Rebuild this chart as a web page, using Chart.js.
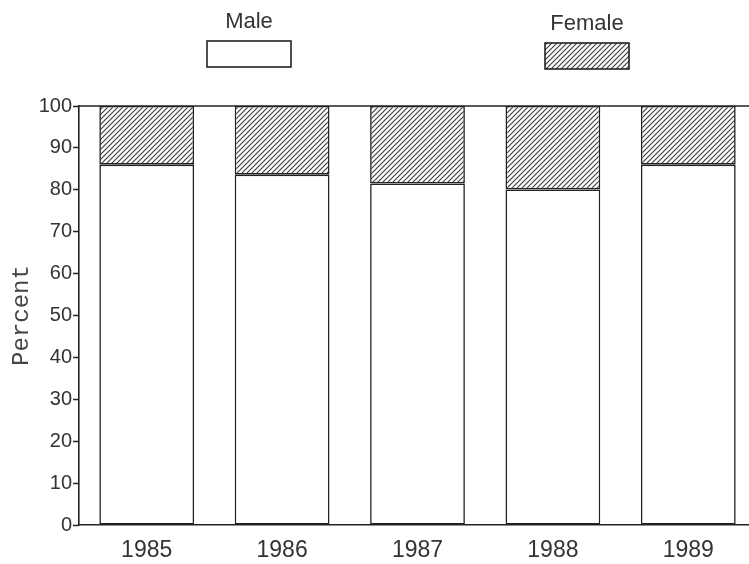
<!DOCTYPE html>
<html>
<head>
<meta charset="utf-8">
<script src="https://cdn.jsdelivr.net/npm/chart.js@4.4.0/dist/chart.umd.min.js"></script>
<style>
  html, body { margin: 0; padding: 0; background: #fff; overflow: hidden; }
  #wrap { width: 760px; height: 564px; }
</style>
</head>
<body>
<div id="wrap"><canvas id="myChart" width="760" height="564"></canvas></div>
<script>
// data
const years = ['1985', '1986', '1987', '1988', '1989'];
const maleValues = [86.0, 83.6, 81.5, 80.1, 86.0];
const femaleValues = [14.0, 16.4, 18.5, 19.9, 14.0];
const seriesNames = ['Male', 'Female'];

// hatch pattern for the female bars
function makeHatch() {
  const c = document.createElement('canvas');
  c.width = 5; c.height = 5;
  const g = c.getContext('2d');
  g.fillStyle = '#fff';
  g.fillRect(0, 0, 5, 5);
  g.strokeStyle = '#3a3a3a';
  g.lineWidth = 1.1;
  g.beginPath();
  g.moveTo(0, 5); g.lineTo(5, 0);
  g.moveTo(-1, 1); g.lineTo(1, -1);
  g.moveTo(4, 6); g.lineTo(6, 4);
  g.stroke();
  return g.createPattern(c, 'repeat');
}
const hatch = makeHatch();

// legend: label with a box under it
const boxLegend = {
  id: 'boxLegend',
  afterDraw(chart) {
    const ctx = chart.ctx;
    const spots = [{ x: 249, y: 28, box: 41 }, { x: 587, y: 30, box: 43 }];
    ctx.save();
    ctx.font = '22px "Liberation Sans", Arial, sans-serif';
    ctx.textAlign = 'center';
    ctx.textBaseline = 'alphabetic';
    chart.data.datasets.forEach((ds, i) => {
      const s = spots[i];
      ctx.fillStyle = '#333';
      ctx.fillText(ds.label, s.x, s.y);
      ctx.fillStyle = ds.backgroundColor;
      ctx.fillRect(s.x - 42, s.box, 84, 26);
      ctx.lineWidth = 1.6;
      ctx.strokeStyle = '#222';
      ctx.strokeRect(s.x - 42, s.box, 84, 26);
    });
    ctx.restore();
  }
};

// top edge of the frame
const topFrame = {
  id: 'topFrame',
  afterDatasetsDraw(chart) {
    const { ctx, chartArea } = chart;
    ctx.save();
    ctx.strokeStyle = '#222';
    ctx.lineWidth = 1.6;
    ctx.beginPath();
    ctx.moveTo(chartArea.left, chartArea.top);
    ctx.lineTo(chartArea.right, chartArea.top);
    ctx.stroke();
    ctx.restore();
  }
};

const data = {
  labels: years,
  datasets: [{
    label: seriesNames[0],
    data: maleValues,
    backgroundColor: '#fff',
    borderColor: '#222',
    borderWidth: 1.6,
    borderSkipped: false
  }, {
    label: seriesNames[1],
    data: femaleValues,
    backgroundColor: hatch,
    borderColor: '#222',
    borderWidth: 1.6,
    borderSkipped: false
  }]
};

const config = {
  type: 'bar',
  data,
  options: {
    responsive: false,
    animation: false,
    layout: { padding: { top: 106, bottom: 0, left: 0, right: 4 } },
    plugins: { legend: { display: false }, tooltip: { enabled: false } },
    datasets: { bar: { categoryPercentage: 1, barPercentage: 0.7 } },
    scales: {
      x: {
        stacked: true,
        afterFit(scale) { scale.height = 39; },
        grid: { display: false },
        border: { display: true, color: '#222', width: 1.6 },
        ticks: {
          color: '#333',
          font: { family: '"Liberation Sans", Arial, sans-serif', size: 23 },
          padding: 4
        }
      },
      y: {
        stacked: true,
        min: 0,
        max: 100,
        afterFit(scale) { scale.width = 79; },
        title: {
          display: true,
          text: 'Percent',
          color: '#444',
          font: { family: '"Liberation Mono", "Courier New", monospace', size: 24 },
          padding: { top: 7, bottom: 0 }
        },
        grid: {
          drawOnChartArea: false,
          drawTicks: true,
          tickLength: 6,
          tickColor: '#222',
          tickWidth: (c) => (c.tick && c.tick.value % 10 === 0 ? 1.5 : 1)
        },
        border: { display: true, color: '#222', width: 1.6 },
        ticks: {
          stepSize: 5,
          color: '#333',
          padding: 1,
          font: { family: '"Liberation Sans", Arial, sans-serif', size: 20 },
          callback: (v) => (v % 10 === 0 ? v : '')
        }
      }
    }
  },
  plugins: [boxLegend, topFrame]
};

const myChart = new Chart(document.getElementById('myChart'), config);
</script>
</body>
</html>
